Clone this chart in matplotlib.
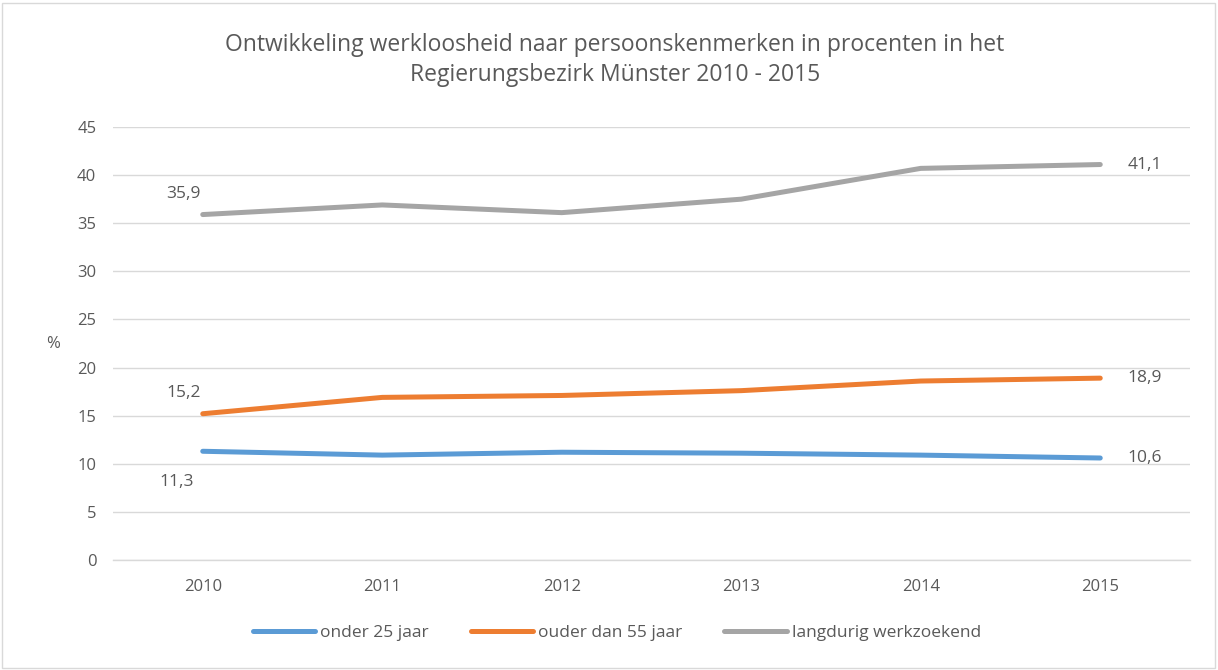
import matplotlib
matplotlib.use("Agg")
import matplotlib.pyplot as plt
from matplotlib.patches import Rectangle

years = ["2010", "2011", "2012", "2013", "2014", "2015"]
onder25 = [11.3, 10.9, 11.2, 11.1, 10.9, 10.6]
ouder55 = [15.2, 16.9, 17.1, 17.6, 18.6, 18.9]
langdurig = [35.9, 36.9, 36.1, 37.5, 40.7, 41.1]
series_names = ["onder 25 jaar", "ouder dan 55 jaar", "langdurig werkzoekend"]
colors = ["#5B9BD5", "#ED7D31", "#A5A5A5"]
yticks = [0, 5, 10, 15, 20, 25, 30, 35, 40, 45]

plt.rcParams['font.family'] = ['Open Sans', 'DejaVu Sans']
txt = "#595959"

fig = plt.figure(figsize=(12.18, 6.70), dpi=100)
ax = fig.add_axes([113/1218, 110/670, (1190-113)/1218, (560-127)/670])

x = list(range(len(years)))
for vals, name, c in zip([onder25, ouder55, langdurig], series_names, colors):
    ax.plot(x, vals, color=c, lw=3.6, label=name, solid_capstyle='round', zorder=3)

ax.set_xlim(-0.5, 5.5)
ax.set_ylim(0, 45)
ax.set_yticks(yticks)
ax.set_yticklabels([str(v) for v in yticks])
ax.set_xticks(x)
ax.set_xticklabels(years)
ax.grid(axis='y', color='#D9D9D9', lw=1.0, zorder=0)
for s in ['top', 'right', 'left']:
    ax.spines[s].set_visible(False)
ax.spines['bottom'].set_color('#D9D9D9')
ax.spines['bottom'].set_linewidth(1.0)
ax.tick_params(axis='both', length=0, colors=txt, labelsize=12)
ax.tick_params(axis='x', pad=14)
ax.tick_params(axis='y', pad=12)

ax.set_ylabel('%', rotation=0, color=txt, fontsize=12, va='center', ha='center')
ax.yaxis.set_label_coords(-0.056, 0.5)

def fmt(v):
    return f"{v:.1f}".replace('.', ',')

fs = 12.5
ax.annotate(fmt(langdurig[0]), (0, langdurig[0]), xytext=(-14, 15), textcoords='offset points', ha='center', va='center', color=txt, fontsize=fs)
ax.annotate(fmt(ouder55[0]), (0, ouder55[0]), xytext=(-14, 15), textcoords='offset points', ha='center', va='center', color=txt, fontsize=fs)
ax.annotate(fmt(onder25[0]), (0, onder25[0]), xytext=(-19, -22), textcoords='offset points', ha='center', va='center', color=txt, fontsize=fs)
for vals in [langdurig, ouder55, onder25]:
    ax.annotate(fmt(vals[-1]), (5, vals[-1]), xytext=(32, 0), textcoords='offset points', ha='center', va='center', color=txt, fontsize=fs)

fig.text(615/1218, 1 - 60/670, "Ontwikkeling werkloosheid naar persoonskenmerken in procenten in het\nRegierungsbezirk Münster 2010 - 2015",
         ha='center', va='center', color=txt, fontsize=16.5, linespacing=1.3)

leg = fig.legend(loc='center', bbox_to_anchor=(617/1218, 1 - 633/670), ncol=3, frameon=False,
                 fontsize=12.5, handlelength=3.6, handletextpad=0.3, columnspacing=2.4)
for t in leg.get_texts():
    t.set_color(txt)

fig.patches.append(Rectangle((2/1218, 2/670), 1 - 5/1218, 1 - 5/670, transform=fig.transFigure,
                             fill=False, edgecolor='#D9D9D9', lw=1.0))

fig.savefig('out.png', dpi=100)
